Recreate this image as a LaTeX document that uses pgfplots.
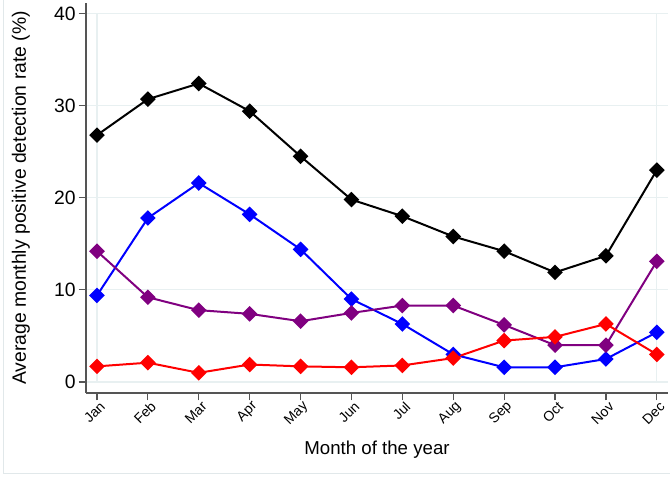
\documentclass[border=0pt]{standalone}
\usepackage{pgfplots}
\pgfplotsset{compat=1.18}
\usepackage{fontspec}
\setmainfont{Liberation Sans}

\definecolor{gridc}{RGB}{232,240,241}
\definecolor{axc}{RGB}{85,85,85}
\definecolor{boxc}{RGB}{225,232,234}
\definecolor{sblue}{RGB}{0,0,255}
\definecolor{sred}{RGB}{255,0,0}
\definecolor{spurple}{RGB}{128,0,128}

\begin{document}
\begin{tikzpicture}[x=0.75pt,y=0.75pt]
% page frame (picture is 670 x 477 px)
\path[use as bounding box] (0,0) rectangle (670,477);
\draw[boxc, line width=0.6pt] (3,477) -- (3,4) -- (670,4);

\begin{axis}[
    at={(64.5pt,63pt)}, anchor=south west,
    scale only axis,
    width=436.5pt, height=292.5pt,
    xmin=0.784, xmax=12.22,
    ymin=-1.19, ymax=41.14,
    axis lines=left,
    axis line style={-, axc, line width=1.4pt},
    tick align=outside,
    major tick length=5.5pt,
    tick style={axc, line width=0.9pt},
    xtick={1,...,12},
    xticklabels={Jan,Feb,Mar,Apr,May,Jun,Jul,Aug,Sep,Oct,Nov,Dec},
    xticklabel style={rotate=45, anchor=east, font=\fontsize{10.5}{12}\selectfont,
        inner sep=1pt, xshift=2pt, yshift=-5pt},
    ytick={0,10,20,30,40},
    yticklabel style={font=\fontsize{14.5}{16}\selectfont, inner sep=2pt},
    /pgf/number format/assume math mode=true,
    ymajorgrids,
    grid style={gridc, line width=0.8pt},
    clip=false,
    every axis plot/.append style={line width=1.5pt, mark=square*,
        mark size=3.4pt, mark options={rotate=45, solid}},
]
\draw[gridc, line width=0.8pt] (axis cs:1,0) -- (axis cs:1,40) -- (axis cs:12,40) -- (axis cs:12,0);

% black series
\addplot[black] coordinates {
    (1,26.8) (2,30.7) (3,32.4) (4,29.4) (5,24.5) (6,19.8)
    (7,18.0) (8,15.8) (9,14.2) (10,11.9) (11,13.7) (12,23.0)
};
% blue series
\addplot[sblue] coordinates {
    (1,9.4) (2,17.8) (3,21.6) (4,18.2) (5,14.4) (6,9.0)
    (7,6.3) (8,3.0) (9,1.6) (10,1.6) (11,2.5) (12,5.4)
};
% purple series
\addplot[spurple] coordinates {
    (1,14.2) (2,9.2) (3,7.8) (4,7.4) (5,6.6) (6,7.5)
    (7,8.3) (8,8.3) (9,6.2) (10,4.0) (11,4.0) (12,13.1)
};
% red series
\addplot[sred] coordinates {
    (1,1.7) (2,2.1) (3,1.0) (4,1.9) (5,1.7) (6,1.6)
    (7,1.8) (8,2.6) (9,4.5) (10,4.9) (11,6.3) (12,3.0)
};
\end{axis}

\node[rotate=90, font=\fontsize{14.5}{16}\selectfont] at (21,279) {Average monthly positive detection rate (\%)};
\node[font=\fontsize{14}{16}\selectfont] at (377,27) {Month of the year};
\end{tikzpicture}
\end{document}
